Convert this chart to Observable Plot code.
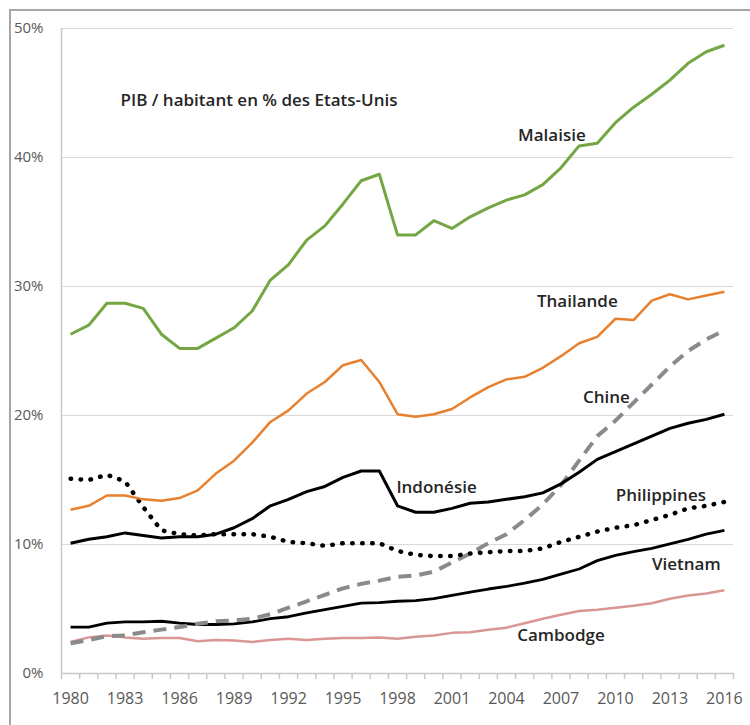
<!DOCTYPE html>
<html><head><meta charset="utf-8">
<script src="https://cdn.jsdelivr.net/npm/d3@7"></script>
<script src="https://cdn.jsdelivr.net/npm/@observablehq/plot@0.6"></script>
<style>
body{margin:0;background:#fff;}
#wrap{position:relative;width:750px;height:725px;overflow:hidden;}
#border{position:absolute;left:9px;top:9px;width:800px;height:800px;border-left:2px solid #a6a6a6;border-top:2px solid #a6a6a6;pointer-events:none;}
#wrap svg{position:absolute;left:0;top:0;}
</style></head><body><div id="wrap"><div id="border"></div></div>
<script>
const years = [1980,1981,1982,1983,1984,1985,1986,1987,1988,1989,1990,1991,1992,1993,1994,1995,1996,1997,1998,1999,2000,2001,2002,2003,2004,2005,2006,2007,2008,2009,2010,2011,2012,2013,2014,2015,2016];
const tickYears = [1980,1983,1986,1989,1992,1995,1998,2001,2004,2007,2010,2013,2016];
const yTicks = [0,10,20,30,40,50];

const malaisie = [26.3,27.0,28.7,28.7,28.3,26.3,25.2,25.2,26.0,26.8,28.1,30.5,31.7,33.6,34.7,36.4,38.2,38.7,34.0,34.0,35.1,34.5,35.4,36.1,36.7,37.1,37.9,39.2,40.9,41.1,42.7,43.9,44.9,46.0,47.3,48.2,48.7];
const thailande = [12.7,13.0,13.8,13.8,13.5,13.4,13.6,14.2,15.5,16.5,17.9,19.5,20.4,21.7,22.6,23.9,24.3,22.6,20.1,19.9,20.1,20.5,21.4,22.2,22.8,23.0,23.7,24.6,25.6,26.1,27.5,27.4,28.9,29.4,29.0,29.3,29.6];
const chine = [2.35,2.6,2.9,2.95,3.2,3.4,3.6,3.85,4.05,4.1,4.25,4.6,5.1,5.6,6.1,6.6,6.95,7.2,7.5,7.6,7.9,8.6,9.3,10.1,10.8,11.9,13.1,14.6,16.5,18.4,19.6,21.0,22.4,23.8,25.0,25.9,26.6];
const indonesie = [10.1,10.4,10.6,10.9,10.7,10.5,10.6,10.6,10.8,11.3,12.0,13.0,13.5,14.1,14.5,15.2,15.7,15.7,13.0,12.5,12.5,12.8,13.2,13.3,13.5,13.7,14.0,14.7,15.6,16.6,17.2,17.8,18.4,19.0,19.4,19.7,20.1];
const philippines = [15.1,15.0,15.4,14.9,12.9,11.1,10.8,10.7,10.8,10.8,10.8,10.6,10.2,10.1,9.9,10.1,10.1,10.1,9.5,9.2,9.1,9.1,9.3,9.4,9.5,9.5,9.7,10.2,10.6,11.0,11.3,11.5,11.9,12.3,12.8,13.0,13.3];
const vietnam = [3.6,3.6,3.9,4.0,4.0,4.05,3.9,3.8,3.8,3.85,4.0,4.25,4.4,4.7,4.95,5.2,5.45,5.5,5.6,5.65,5.8,6.05,6.3,6.55,6.75,7.0,7.3,7.7,8.1,8.75,9.15,9.45,9.7,10.05,10.4,10.8,11.1];
const cambodge = [2.45,2.8,2.95,2.8,2.7,2.75,2.75,2.5,2.6,2.55,2.45,2.6,2.7,2.6,2.7,2.75,2.75,2.8,2.7,2.85,2.95,3.15,3.2,3.4,3.55,3.9,4.25,4.55,4.85,4.95,5.1,5.25,5.45,5.8,6.05,6.2,6.45];

const labelNames = ["Malaisie","Thailande","Chine","Indonésie","Philippines","Vietnam","Cambodge"];
const labelYears = [2006.5,2007.9,2009.5,2000.15,2012.5,2013.9,2007.0];
const labelValues = [41.7,28.8,21.4,14.4,13.8,8.45,2.95];
const title = "PIB / habitant en % des Etats-Unis";
const titleYear = 1982.75, titleValue = 44.4;

const rows = (vals) => years.map((y, i) => ({year: y, value: vals[i]}));
const xDomain = [years[0] - 0.5, years[years.length - 1] + 0.5];
const boundaries = years.map(y => y - 0.5).concat([xDomain[1]]);

const lineStyles = [
  {data: cambodge, stroke: "#d99694", strokeWidth: 2.5},
  {data: vietnam, stroke: "#000", strokeWidth: 2.8},
  {data: chine, stroke: "#8a8a8a", strokeWidth: 4, strokeDasharray: "13,8"},
  {data: indonesie, stroke: "#000", strokeWidth: 3},
  {data: philippines, stroke: "#000", strokeWidth: 4.5, strokeDasharray: "0.5,9.5", strokeLinecap: "round"},
  {data: thailande, stroke: "#e8802e", strokeWidth: 2.5},
  {data: malaisie, stroke: "#74a744", strokeWidth: 3}
];

const chart = Plot.plot({
  width: 750, height: 725,
  marginLeft: 61, marginRight: 17, marginTop: 28, marginBottom: 52,
  style: {fontFamily: "Open Sans", fontSize: "15px", background: "transparent"},
  x: {domain: xDomain, axis: null},
  y: {domain: [0, 50], axis: null},
  marks: [
    Plot.gridY(yTicks.slice(1), {stroke: "#d9d9d9", strokeOpacity: 1, strokeWidth: 1.2}),
    Plot.ruleX([xDomain[0]], {stroke: "#c8c8c8", strokeWidth: 1.5}),
    Plot.ruleY([0], {stroke: "#c8c8c8", strokeWidth: 1.5}),
    Plot.axisX({ticks: boundaries, tickSize: 6, tickFormat: () => "", stroke: "#c8c8c8", strokeWidth: 1.5}),
    Plot.axisX({ticks: tickYears, tickSize: 0, tickPadding: 19, tickFormat: d => String(d), fill: "#595959", fontSize: 16}),
    Plot.axisY({ticks: yTicks, tickSize: 0, tickPadding: 18, tickFormat: d => d + "%", fill: "#595959", fontSize: 15}),
    ...lineStyles.map(s => Plot.line(rows(s.data), {
      x: "year", y: "value", stroke: s.stroke, strokeWidth: s.strokeWidth,
      strokeDasharray: s.strokeDasharray, strokeLinecap: s.strokeLinecap || "butt", strokeLinejoin: "round"
    })),
    Plot.text(labelNames.map((n, i) => ({name: n, x: labelYears[i], y: labelValues[i]})), {
      x: "x", y: "y", text: "name", fontWeight: 600, fontSize: 17, fill: "#262626"
    }),
    Plot.text([title], {x: () => titleYear, y: () => titleValue, text: d => d, textAnchor: "start", fontWeight: 600, fontSize: 17, fill: "#262626"})
  ]
});
document.getElementById("wrap").appendChild(chart);
</script>
</body></html>
